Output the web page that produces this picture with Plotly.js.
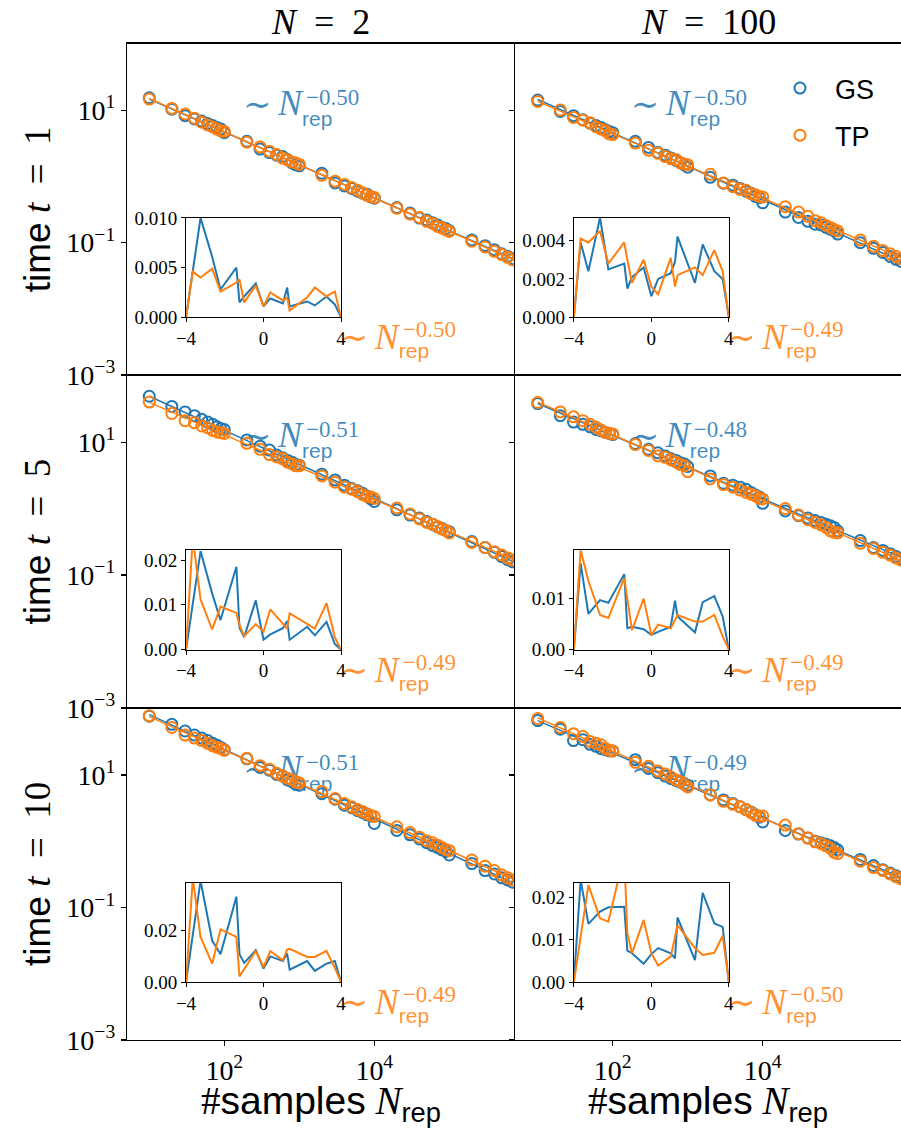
<!DOCTYPE html>
<html><head><meta charset="utf-8">
<script src="https://cdn.plot.ly/plotly-3.0.1.min.js"></script>
<style>html,body{margin:0;padding:0;background:#fff;} #chart{width:901px;height:1133px;}</style>
</head><body><div id="chart"></div>
<script>
// ---------------- data ----------------
const N_rep = [10,20,30,40,50,60,70,80,90,
  100,200,300,400,500,600,700,800,900,
  1000,2000,3000,4000,5000,6000,7000,8000,9000,
  10000,20000,30000,40000,50000,60000,70000,80000,90000,
  100000,200000,300000,400000,500000,600000,700000];

// panel order: (N=2,t=1) (N=100,t=1) (N=2,t=5) (N=100,t=5) (N=2,t=10) (N=100,t=10)
const err_GS_N2_t1 = [15.5,10.4,8.3,7.4,6.9,6.3,5.9,5.5,5.2, 4.6,3.4,2.6,2.3,2.1,2.0,1.8,1.6,1.5, 1.45,1.12,0.80,0.72,0.66,0.60,0.56,0.54,0.49, 0.47,0.34,0.28,0.235,0.22,0.20,0.185,0.17,0.163, 0.152,0.11,0.09,0.078,0.068,0.062,0.057];
const err_TP_N2_t1 = [14.8,10.7,8.8,7.6,6.6,6.0,5.6,5.2,4.9, 4.8,3.3,2.8,2.4,2.15,1.9,1.78,1.66,1.6, 1.52,1.04,0.85,0.76,0.68,0.62,0.57,0.52,0.50, 0.48,0.33,0.27,0.24,0.21,0.195,0.176,0.166,0.156, 0.148,0.105,0.086,0.074,0.066,0.060,0.055];
const err_GS_N100_t1 = [14.3,9.6,8.3,7.2,6.4,5.9,5.5,5.1,4.8, 4.6,3.4,2.75,2.3,2.1,1.9,1.75,1.62,1.5, 1.38,0.97,0.79,0.74,0.66,0.6,0.56,0.50,0.48, 0.40,0.29,0.24,0.21,0.19,0.185,0.17,0.16,0.15, 0.135,0.10,0.082,0.071,0.062,0.056,0.052];
const err_TP_N100_t1 = [13.6,10.1,7.8,7.1,6.5,5.6,5.2,4.9,4.4, 4.3,3.2,2.5,2.25,2.0,1.85,1.8,1.6,1.55, 1.5,1.08,0.80,0.70,0.64,0.62,0.55,0.53,0.50, 0.49,0.35,0.29,0.25,0.215,0.20,0.182,0.17,0.158, 0.15,0.11,0.088,0.076,0.068,0.062,0.057];
const err_GS_N2_t5 = [49,34.5,28.5,25,22,20,18.5,17,16, 15.5,10.8,8.7,7.6,6.4,5.8,5.3,5.0,4.6, 4.5,3.3,2.7,2.25,2.0,1.85,1.7,1.55,1.4, 1.28,0.96,0.80,0.72,0.64,0.58,0.53,0.50,0.47, 0.45,0.32,0.26,0.22,0.19,0.17,0.158];
const err_TP_N2_t5 = [40,27,21,19.5,17.5,16.5,15,14.2,13.8, 13.5,9.6,7.8,6.5,6.0,5.6,5.0,4.7,4.4, 4.4,3.1,2.5,2.1,1.95,1.8,1.62,1.52,1.5, 1.42,1.02,0.83,0.70,0.62,0.58,0.54,0.49,0.47, 0.43,0.31,0.26,0.225,0.2,0.18,0.168];
const err_GS_N100_t5 = [38,25,20,18.5,17,15.5,14.8,14,13.5, 13,9.5,7.8,6.9,6.2,5.6,5.3,4.9,4.7, 4.3,3.1,2.4,2.25,2.1,1.95,1.75,1.6,1.5, 1.2,0.92,0.78,0.72,0.66,0.62,0.58,0.55,0.52, 0.46,0.33,0.26,0.235,0.21,0.19,0.176];
const err_TP_N100_t5 = [39.5,28.5,24,21,18.5,16.8,15.2,14.0,13.6, 13.3,9.2,7.5,6.2,5.9,5.4,5.0,4.6,4.4, 3.6,2.8,2.3,2.1,1.9,1.75,1.65,1.55,1.42, 1.40,1.0,0.80,0.68,0.62,0.57,0.52,0.46,0.44, 0.43,0.30,0.25,0.22,0.20,0.18,0.168];
const err_GS_N2_t10 = [77,58,46,40,36,33,30,28,26, 24,17.5,13,11.8,10.2,9.6,8.4,7.9,7.2, 7.0,5.2,4.3,3.5,3.2,2.9,2.7,2.5,2.4, 1.85,1.45,1.25,1.08,0.95,0.86,0.80,0.74,0.70, 0.62,0.46,0.36,0.32,0.28,0.26,0.24];
const err_TP_N2_t10 = [78,52,40,36,33,30,27.5,26,25, 23.5,17.8,13.8,12.2,10.6,9.7,8.9,8.4,7.8, 7.6,5.6,4.4,3.7,3.3,3.0,2.8,2.6,2.45, 2.35,1.65,1.35,1.15,1.02,0.95,0.87,0.8,0.75, 0.72,0.52,0.42,0.36,0.31,0.28,0.26];
const err_GS_N100_t10 = [66,49,33,34,29,27,25,24,23, 23,17,12.5,10.8,9.6,8.8,8.2,7.8,7.4, 7.0,5.0,4.2,3.7,3.3,3.0,2.75,2.5,2.3, 1.95,1.45,1.28,1.12,1.0,0.95,0.90,0.85,0.80, 0.74,0.53,0.43,0.37,0.33,0.30,0.28];
const err_TP_N100_t10 = [71,52,42,38,32,30,28.5,25,23.5, 23,15.5,13.5,11.5,10.3,9.3,8.4,7.9,7.2, 6.6,5.0,4.0,3.6,3.3,3.0,2.7,2.45,2.4, 2.4,1.75,1.3,1.12,0.98,0.92,0.85,0.78,0.68, 0.65,0.50,0.40,0.36,0.32,0.29,0.27];

// insets
const inset_x = [-4,-3.65,-3.25,-2.65,-2.22,-1.4,-1.24,-1.0,-0.4,0,0.35,1.0,1.22,1.35,2.25,2.65,3.25,3.68,4];
const ins_GS_N2_t1 = [0,0.0046,0.0100,0.0061,0.0028,0.0050,0.0015,0.0021,0.0034,0.0011,0.0019,0.0014,0.0030,0.0011,0.0016,0.0012,0.0021,0.0013,0];
const ins_TP_N2_t1 = [0,0.0046,0.0040,0.0049,0.0026,0.0035,0.0038,0.0015,0.0032,0.0011,0.0025,0.0017,0.0020,0.0007,0.0020,0.0030,0.0021,0.0026,0];
const ins_GS_N100_t1 = [0,0.0039,0.0024,0.0052,0.0025,0.0028,0.0015,0.0021,0.0026,0.0011,0.0020,0.0023,0.0029,0.0042,0.0018,0.0038,0.0024,0.0020,0];
const ins_TP_N100_t1 = [0,0.0041,0.0039,0.0045,0.0028,0.0039,0.0030,0.0018,0.0030,0.0016,0.0012,0.0031,0.0016,0.0022,0.0026,0.0022,0.0035,0.0024,0];
const ins_GS_N2_t5 = [0,0.0104,0.0220,0.0125,0.0066,0.0185,0.0049,0.0028,0.0110,0.0022,0.0034,0.0048,0.0064,0.0022,0.0051,0.0032,0.0062,0.0013,0];
const ins_TP_N2_t5 = [0,0.0250,0.0112,0.0045,0.0096,0.0082,0.0055,0.0030,0.0057,0.0040,0.0090,0.0058,0.0047,0.0081,0.0058,0.0047,0.0104,0.0028,0];
const ins_GS_N100_t5 = [0,0.0169,0.0070,0.0097,0.0092,0.0148,0.0042,0.0045,0.0040,0.0029,0.0035,0.0045,0.0096,0.0065,0.0034,0.0093,0.0105,0.0065,0];
const ins_TP_N100_t5 = [0,0.0195,0.0135,0.0068,0.0062,0.0140,0.0100,0.0038,0.0100,0.0029,0.0049,0.0042,0.0058,0.0068,0.0055,0.0055,0.0068,0.0026,0];
const ins_GS_N2_t10 = [0,0.0185,0.0390,0.0160,0.0107,0.0329,0.0107,0.0074,0.0123,0.0052,0.0099,0.0081,0.0110,0.0048,0.0081,0.0043,0.0071,0.0081,0];
const ins_TP_N2_t10 = [0,0.0400,0.0174,0.0071,0.0203,0.0174,0.0022,0.0050,0.0120,0.0058,0.0120,0.0084,0.0125,0.0128,0.0097,0.0097,0.0120,0.0055,0];
const ins_GS_N100_t10 = [0,0.0240,0.0137,0.0166,0.0176,0.0177,0.0074,0.0068,0.0043,0.0066,0.0080,0.0068,0.0056,0.0152,0.0052,0.0210,0.0138,0.0130,0];
const ins_TP_N100_t10 = [0,0.0110,0.0228,0.0150,0.0142,0.0300,0.0115,0.0068,0.0146,0.0068,0.0039,0.0060,0.0105,0.0134,0.0080,0.0064,0.0069,0.0109,0];

const inset_ymax = [0.0100,0.00518,0.0222,0.0195,0.0383,0.0234];
const inset_ytickvals = [[0,0.005,0.010],[0,0.002,0.004],[0,0.01,0.02],[0,0.01],[0,0.02],[0,0.01,0.02]];
const inset_yticktext = [['0.000','0.005','0.010'],['0.000','0.002','0.004'],['0.00','0.01','0.02'],['0.00','0.01'],['0.00','0.02'],['0.00','0.01','0.02']];
const inset_xtickvals = [-4,0,4];
const inset_xticktext = ['\u22124','0','4'];

const exp_GS = ['\u22120.50','\u22120.50','\u22120.51','\u22120.48','\u22120.51','\u22120.49'];
const exp_TP = ['\u22120.50','\u22120.49','\u22120.49','\u22120.49','\u22120.49','\u22120.50'];

const col_N = ['2','100'];
const row_t = ['1','5','10'];
const series_names = ['GS','TP'];
const main_ytickvals = [10,0.1,0.001];
const main_yticktext = ['10<sup>1</sup>','10<sup>\u22121</sup>','10<sup>\u22123</sup>'];
const main_xtickvals = [100,10000];
const main_xticktext = ['10<sup>2</sup>','10<sup>4</sup>'];

// ---------------- build ----------------
const W = 901, H = 1133;
const C_GS = '#1f77b4', C_TP = '#ff7f0e';
const T_GS = 'rgba(31,119,180,0.85)', T_TP = 'rgba(255,127,14,0.85)';
const SERIF = 'Liberation Serif, DejaVu Serif, serif';
const SANS = 'Liberation Sans, DejaVu Sans, sans-serif';

const gsMain = [err_GS_N2_t1, err_GS_N100_t1, err_GS_N2_t5, err_GS_N100_t5, err_GS_N2_t10, err_GS_N100_t10];
const tpMain = [err_TP_N2_t1, err_TP_N100_t1, err_TP_N2_t5, err_TP_N100_t5, err_TP_N2_t10, err_TP_N100_t10];
const gsIns = [ins_GS_N2_t1, ins_GS_N100_t1, ins_GS_N2_t5, ins_GS_N100_t5, ins_GS_N2_t10, ins_GS_N100_t10];
const tpIns = [ins_TP_N2_t1, ins_TP_N100_t1, ins_TP_N2_t5, ins_TP_N100_t5, ins_TP_N2_t10, ins_TP_N100_t10];

const colPx = [[127,514],[515,901]];
const rowPx = [[43.5,375],[375,708],[708,1040]];
const xr0 = [0.703, 0.697];
const yrange = [-3, 2.01];

function fitLine(xs, ys){
  const lx = xs.map(Math.log10), ly = ys.map(Math.log10);
  const n = lx.length;
  const mx = lx.reduce((a,b)=>a+b,0)/n, my = ly.reduce((a,b)=>a+b,0)/n;
  let sxy=0, sxx=0;
  for(let i=0;i<n;i++){ sxy += (lx[i]-mx)*(ly[i]-my); sxx += (lx[i]-mx)*(lx[i]-mx); }
  const a = sxy/sxx, b = my - a*mx;
  const xe = [xs[0], xs[n-1]];
  return {x: xe, y: xe.map(v => Math.pow(10, b + a*Math.log10(v)))};
}

const traces = [];
const layout = {
  width: W, height: H, margin: {l:0,r:0,t:0,b:0},
  paper_bgcolor: '#fff', plot_bgcolor: 'rgba(0,0,0,0)',
  showlegend: true, hovermode: false,
  font: {family: SERIF, color: '#000'},
  legend: {x: 780/W, y: 1-64/H, xanchor: 'left', yanchor: 'top', bgcolor: 'rgba(0,0,0,0)',
           font: {family: SANS, size: 27, color: '#000'}, tracegroupgap: 9, traceorder: 'grouped', itemwidth: 30},
  annotations: []
};

for(let p=0;p<6;p++){
  const r = Math.floor(p/2), c = p%2;
  const [x0,x1] = colPx[c], [y0,y1] = rowPx[r];
  const wpx = x1-x0, hpx = y1-y0;
  const xrange = [xr0[c], xr0[c] + wpx/75];
  const id = p+1;
  const xa = 'x'+(id===1?'':id), ya = 'y'+(id===1?'':id);
  const xk = 'xaxis'+(id===1?'':id), yk = 'yaxis'+(id===1?'':id);
  layout[xk] = {type:'log', domain:[x0/W, x1/W], range: xrange, anchor: ya,
    showline:true, linecolor:'#000', linewidth:1.2, mirror:true,
    ticks: r===2 ? 'outside' : '', ticklen:5, tickwidth:1.2, tickcolor:'#000',
    tickmode:'array', tickvals: main_xtickvals, ticktext: main_xticktext,
    showticklabels: r===2, tickfont:{family:SERIF, size:28}, showgrid:false, zeroline:false};
  layout[yk] = {type:'log', domain:[1-y1/H, 1-y0/H], range: yrange, anchor: xa,
    showline:true, linecolor:'#000', linewidth:1.2, mirror: c===0,
    ticks:'outside', ticklen:5, tickwidth:1.2, tickcolor:'#000',
    tickmode:'array', tickvals: main_ytickvals, ticktext: main_yticktext,
    showticklabels: c===0, tickfont:{family:SERIF, size:28}, showgrid:false, zeroline:false};

  // exponent labels as text (under data)
  const toData = (fx, fy, dx, dy) => [
    Math.pow(10, xrange[0] + (fx + dx/wpx)*(xrange[1]-xrange[0])),
    Math.pow(10, yrange[0] + (fy + dy/hpx)*(yrange[1]-yrange[0]))];
  const items = [];
  const addLab = (fx, fy, exp, col, d) => {
    items.push({pt: toData(fx,fy,0,-1), t:'\u223c', fam:SERIF, size:34, col});
    items.push({pt: toData(fx,fy,d.nx,0), t:'<i>N</i>', fam:SERIF, size:36, col});
    items.push({pt: toData(fx,fy,d.ex,d.ey), t:exp, fam:SERIF, size:23, col});
    items.push({pt: toData(fx,fy,d.rx,d.ry), t:'rep', fam:SANS, size:21, col});
  };
  addLab(0.30, 0.81, exp_GS[p], T_GS, {nx:35, ex:63, ey:7, rx:59, ry:-14.5});
  addLab(0.55, 0.1056, exp_TP[p], T_TP, {nx:35, ex:63, ey:8.5, rx:59, ry:-12.5});
  traces.push({type:'scatter', mode:'text', xaxis:xa, yaxis:ya, showlegend:false,
    x: items.map(o=>o.pt[0]), y: items.map(o=>o.pt[1]), text: items.map(o=>o.t),
    textposition:'middle right', marker:{size:1},
    textfont:{family: items.map(o=>o.fam), size: items.map(o=>o.size), color: items.map(o=>o.col)}});

  const fg = fitLine(N_rep, gsMain[p]), ft = fitLine(N_rep, tpMain[p]);
  traces.push({type:'scatter', mode:'markers', x:N_rep, y:gsMain[p], xaxis:xa, yaxis:ya,
    name: '\u00a0\u00a0'+series_names[0], legendgroup:'gs', showlegend: p===0,
    marker:{symbol:'circle-open', size:11, color:C_GS, line:{width:2, color:C_GS}}});
  traces.push({type:'scatter', mode:'lines', x:fg.x, y:fg.y, xaxis:xa, yaxis:ya, showlegend:false,
    line:{color:C_GS, width:1.5}});
  traces.push({type:'scatter', mode:'markers', x:N_rep, y:tpMain[p], xaxis:xa, yaxis:ya,
    name: '\u00a0\u00a0'+series_names[1], legendgroup:'tp', showlegend: p===0,
    marker:{symbol:'circle-open', size:11, color:C_TP, line:{width:2, color:C_TP}}});
  traces.push({type:'scatter', mode:'lines', x:ft.x, y:ft.y, xaxis:xa, yaxis:ya, showlegend:false,
    line:{color:C_TP, width:1.5}});

  // inset
  const iid = p+7;
  const ixa = 'x'+iid, iya = 'y'+iid;
  const ix0 = x0 + 0.1525*wpx, ix1 = ix0 + 155;
  const iy0 = y0 + 0.526*hpx, iy1 = iy0 + 99.5;
  layout['xaxis'+iid] = {domain:[ix0/W, ix1/W], range:[-4,4], anchor:iya,
    showline:true, linecolor:'#000', linewidth:1, mirror:true,
    ticks:'outside', ticklen:4, tickwidth:1, tickcolor:'#000',
    tickmode:'array', tickvals: inset_xtickvals, ticktext: inset_xticktext,
    tickfont:{family:SERIF, size:19}, showgrid:false, zeroline:false};
  layout['yaxis'+iid] = {domain:[1-iy1/H, 1-iy0/H], range:[0, inset_ymax[p]], anchor:ixa,
    showline:true, linecolor:'#000', linewidth:1, mirror:true,
    ticks:'outside', ticklen:4, tickwidth:1, tickcolor:'#000',
    tickmode:'array', tickvals: inset_ytickvals[p], ticktext: inset_yticktext[p],
    tickfont:{family:SERIF, size:19}, showgrid:false, zeroline:false};
  traces.push({type:'scatter', mode:'lines', x:inset_x, y:gsIns[p], xaxis:ixa, yaxis:iya, showlegend:false,
    line:{color:C_GS, width:2}});
  traces.push({type:'scatter', mode:'lines', x:inset_x, y:tpIns[p], xaxis:ixa, yaxis:iya, showlegend:false,
    line:{color:C_TP, width:2}});
}

// titles
for(let c=0;c<2;c++){
  const cx = (colPx[c][0]+colPx[c][1])/2/W;
  layout.annotations.push({xref:'paper', yref:'paper', x:cx, y:1-22/H, xanchor:'center', yanchor:'middle',
    showarrow:false, text:'<i>N</i>\u2002=\u2002'+col_N[c], font:{family:SERIF, size:36, color:'#000'}});
  layout.annotations.push({xref:'paper', yref:'paper', x:cx, y:1-1103/H, xanchor:'center', yanchor:'middle',
    showarrow:false, text:'#<span style="font-family:Liberation Sans">samples</span> <i>N</i><sub><span style="font-family:Liberation Sans">rep</span></sub>',
    font:{family:SERIF, size:39, color:'#000'}});
}
for(let r=0;r<3;r++){
  const cy = 1 - (rowPx[r][0]+rowPx[r][1])/2/H;
  layout.annotations.push({xref:'paper', yref:'paper', x:37/W, y:cy, xanchor:'center', yanchor:'middle',
    textangle:-90, showarrow:false,
    text:'<span style="font-family:Liberation Sans">time</span> <i>t</i>\u2002=\u2002'+row_t[r],
    font:{family:SERIF, size:37, color:'#000'}});
}

Plotly.newPlot('chart', traces, layout, {staticPlot:true, displayModeBar:false});
</script></body></html>
